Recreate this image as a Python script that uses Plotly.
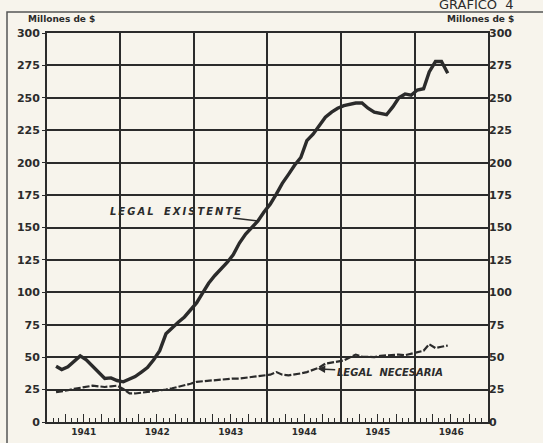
import plotly.graph_objects as go
import pandas as pd

# Monthly data, Feb 1941 - Jun 1946 (millions of $)
start_month = "1941-02-01"
existente = [43, 40.5, 42.5, 47, 51, 48, 43, 38, 33.5, 34, 32,        # Feb-Dec 1941
             31, 33, 35, 38.5, 42, 48, 55, 68, 73, 77, 81, 86,          # 1942
             92, 100, 107, 113, 118, 123, 129, 138, 145, 150, 155, 162, # 1943
             168, 176, 184, 191, 198, 204, 217, 222, 229, 235, 239, 242,# 1944
             244, 245, 246, 246, 242, 239, 238, 237, 243, 250, 253, 252,# 1945
             256, 257, 270, 278, 278, 269]                              # Jan-Jun 1946
necesaria = [23, 23.5, 24.5, 25.5, 26.5, 27.5, 28, 27.5, 27, 27.5, 28,
             25.5, 22, 22, 22.5, 23, 23.5, 24, 25, 26, 27, 28, 29.5,
             31, 31.5, 32, 32.5, 32.5, 33, 33.5, 33.5, 34, 34.5, 35, 35.5,
             36.5, 38.5, 36.5, 36, 36.5, 37.5, 38.5, 40, 42, 45, 46, 46.5,
             47.5, 50, 52, 50.5, 50.5, 50, 51, 51.5, 52, 52, 51.5, 52.5,
             54, 55, 60, 57, 58, 59]
y_ticks = list(range(0, 301, 25))
x_range = ["1941-01-01", "1947-01-01"]

dates = pd.date_range(start_month, periods=len(existente), freq="MS") + pd.Timedelta(days=14)

ink = "#2b2b2b"
bg = "#f7f4ec"
font = dict(family="DejaVu Sans", size=10, color=ink)
TS = "\u2009"  # thin space for letter spacing

def spaced(s, sep):
    return sep.join(list(s))

fig = go.Figure()
fig.add_trace(go.Scatter(x=dates, y=existente, mode="lines",
                         line=dict(color=ink, width=3.4), showlegend=False, hoverinfo="skip"))
fig.add_trace(go.Scatter(x=dates, y=necesaria, mode="lines",
                         line=dict(color=ink, width=2.2, dash="7px,2px"), showlegend=False, hoverinfo="skip"))
# transparent copy to carry the secondary (right / quarterly tick) axes
fig.add_trace(go.Scatter(x=dates, y=necesaria, mode="lines", xaxis="x2", yaxis="y2",
                         line=dict(color="rgba(0,0,0,0)", width=0), showlegend=False, hoverinfo="skip"))

fig.update_layout(
    width=543, height=443,
    margin=dict(l=47, r=55, t=33, b=21, autoexpand=False),
    paper_bgcolor=bg, plot_bgcolor=bg,
    font=font,
    xaxis=dict(type="date", range=x_range, tick0="1941-01-01", dtick="M12",
               ticklabelmode="period", tickformat="%Y", ticks="", automargin=False,
               showgrid=True, gridcolor=ink, gridwidth=1.5,
               showline=True, linecolor=ink, linewidth=1.8, mirror=True,
               tickfont=dict(family="DejaVu Sans", size=9, color=ink, weight="bold"),
               minor=dict(dtick="M1", ticks="inside", ticklen=4, tickwidth=1, tickcolor=ink,
                          showgrid=False),
               zeroline=False),
    xaxis2=dict(type="date", range=x_range, overlaying="x", anchor="y", side="bottom",
                tick0="1941-01-01", dtick="M3", ticks="inside", ticklen=8, tickwidth=1,
                automargin=False,
                tickcolor=ink, showticklabels=False, showgrid=False, showline=False),
    yaxis=dict(range=[0, 300], tickvals=y_ticks, ticks="outside", ticklen=3, tickcolor=ink,
               showgrid=True, gridcolor=ink, gridwidth=1.5, zeroline=False, automargin=False,
               showline=True, linecolor=ink, linewidth=1.8, mirror=True,
               tickfont=dict(family="DejaVu Sans", size=11, color=ink, weight="bold")),
    yaxis2=dict(range=[0, 300], tickvals=y_ticks, overlaying="y", side="right", anchor="x",
                ticks="", showgrid=False, zeroline=False, showline=False, automargin=False,
                tickfont=dict(family="DejaVu Sans", size=11, color=ink, weight="bold")),
)

# outer frame of the printed plate
fig.add_shape(type="rect", xref="paper", yref="paper", x0=-0.0907, y0=-0.2, x1=1.3, y1=1.054,
              line=dict(color="#555", width=1.5), fillcolor="rgba(0,0,0,0)", layer="below")

fig.add_annotation(text="Millones de $", xref="paper", yref="paper", x=0.032, y=1.036,
                   xanchor="center", yanchor="middle", showarrow=False,
                   font=dict(family="DejaVu Sans", size=9, color=ink, weight="bold"))
fig.add_annotation(text="Millones de $", xref="paper", yref="paper", x=0.984, y=1.036,
                   xanchor="center", yanchor="middle", showarrow=False,
                   font=dict(family="DejaVu Sans", size=9, color=ink, weight="bold"))
fig.add_annotation(text="GRAFICO  4", xref="paper", yref="paper", x=1.063, y=1.072,
                   xanchor="right", yanchor="middle", showarrow=False,
                   font=dict(family="DejaVu Sans", size=13, color=ink))

fig.add_annotation(text="<b><i>" + spaced("LEGAL", TS) + "   " + spaced("EXISTENTE", TS) + "</i></b>",
                   x="1943-11-13", y=155,
                   ax=-82, ay=-10, showarrow=True, arrowhead=0, arrowwidth=1.5, arrowcolor=ink,
                   font=dict(family="DejaVu Sans", size=10, color=ink))
fig.add_annotation(text="<b><i>LEGAL  NECESARIA</i></b>", x="1944-09-07", y=41,
                   ax=72, ay=4, showarrow=True, arrowhead=2, arrowsize=1, arrowwidth=1.5,
                   arrowcolor=ink, font=dict(family="DejaVu Sans", size=10, color=ink))

fig.write_html("out.html", config={"displayModeBar": False},
               post_script="var h=document.documentElement,b=document.body;"
                           "h.style.margin='0';h.style.padding='0';h.style.overflow='hidden';"
                           "b.style.margin='0';b.style.padding='0';b.style.overflow='hidden';"
                           "b.style.background='#f7f4ec';")
